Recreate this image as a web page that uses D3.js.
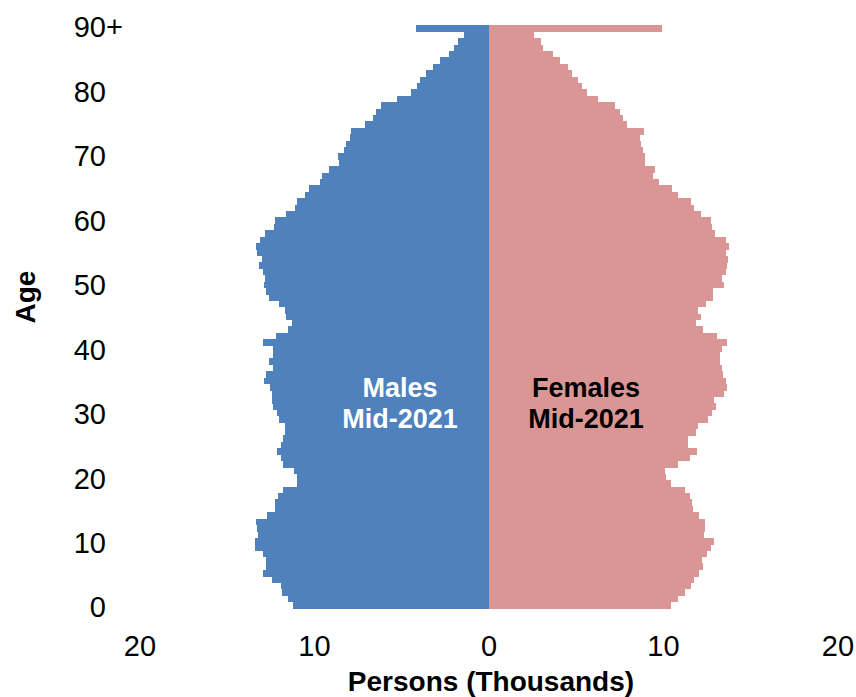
<!DOCTYPE html>
<html lang="en">
  <head>
    <meta charset="UTF-8">
    <title>Population pyramid mid-2021</title>
    <style>
    * {
      box-sizing: border-box;
      margin: 0;
      padding: 0;
    }

    body {
      background: #fff;
      font-family: "Liberation Sans", Arial, sans-serif;
    }

    .tick-label {
      fill: #000;
      font-size: 29px;
    }

    .axis-title {
      fill: #000;
      font-size: 28px;
      font-weight: bold;
    }

    .inner-label {
      font-size: 27px;
      font-weight: bold;
    }
    </style>
  </head>
  <body>
    <svg width="856" height="697"></svg>
    <script src="https://d3js.org/d3.v7.min.js"></script>
    <script>
      // ages 0 .. 90+ (last entry is the 90+ group)
      const ages = d3.range(0, 91).map(a => a === 90 ? "90+" : String(a));

      // thousands of persons, age 0 first
      const males = [
        11.25, 11.52, 11.88, 11.94, 12.44, 12.93, 12.78, 12.78, 12.93, 13.43,
        13.41, 13.25, 13.31, 13.37, 12.74, 12.24, 12.24, 12.07, 11.79, 11.02,
        11.02, 11.17, 11.82, 11.94, 12.13, 11.90, 11.82, 11.67, 11.67, 12.02,
        12.13, 12.36, 12.45, 12.45, 12.55, 12.88, 12.78, 12.36, 12.59, 12.36,
        12.36, 12.93, 12.19, 11.52, 11.31, 11.63, 11.67, 12.02, 12.59, 12.76,
        12.87, 12.85, 12.97, 13.18, 12.99, 13.28, 13.34, 13.10, 12.84, 12.34,
        12.26, 11.65, 11.10, 11.02, 10.56, 10.33, 9.68, 9.55, 9.17, 8.58,
        8.65, 8.33, 8.21, 7.95, 7.91, 7.09, 6.67, 6.46, 6.17, 5.27,
        4.49, 4.14, 3.93, 3.63, 3.19, 2.81, 2.31, 1.99, 1.76, 1.42,
        4.18
      ];

      const females = [
        10.41, 10.85, 11.23, 11.56, 11.77, 12.05, 12.24, 12.19, 12.47, 12.72,
        12.91, 12.32, 12.38, 12.38, 12.05, 11.67, 11.62, 11.52, 11.23, 10.41,
        10.13, 10.09, 10.85, 11.52, 11.94, 11.39, 11.39, 11.86, 12.00, 12.55,
        12.76, 13.01, 12.89, 13.49, 13.62, 13.56, 13.39, 13.37, 13.24, 13.24,
        13.33, 13.64, 13.08, 12.28, 11.86, 12.13, 11.96, 12.45, 12.86, 12.86,
        13.49, 13.33, 13.56, 13.62, 13.68, 13.56, 13.75, 13.56, 12.95, 12.80,
        12.70, 12.13, 11.75, 11.56, 10.85, 10.47, 9.74, 9.40, 9.49, 8.92,
        8.94, 8.84, 8.71, 8.63, 8.88, 7.91, 7.70, 7.51, 7.22, 6.27,
        5.63, 5.33, 5.10, 4.76, 4.53, 4.07, 3.65, 3.11, 2.96, 2.58,
        9.91
      ];

      const xTicks = [-20, -10, 0, 10, 20];
      const yTicks = ["0", "10", "20", "30", "40", "50", "60", "70", "80", "90+"];

      const maleColor = "#4f81bd";
      const femaleColor = "#d99694";

      const svg = d3.select("svg");

      const x = d3.scaleLinear()
        .domain([-20, 20])
        .range([140, 838]);

      const y = d3.scaleBand()
        .domain(ages.slice().reverse())
        .range([25.3, 608.3])
        .padding(0);

      // tick labels sit a touch wider apart than the bar centres
      const yLabel = d3.scaleLinear()
        .domain([0, 90])
        .range([607, 27]);

      const rows = ages.map((a, i) => ({ age: a, m: males[i], f: females[i] }));

      const g = svg.append("g").attr("shape-rendering", "crispEdges");

      g.selectAll(".male")
        .data(rows)
        .enter().append("rect")
        .attr("class", "male")
        .attr("x", d => x(-d.m))
        .attr("y", d => y(d.age))
        .attr("width", d => x(0) - x(-d.m))
        .attr("height", y.bandwidth() + 0.3)
        .attr("fill", maleColor);

      g.selectAll(".female")
        .data(rows)
        .enter().append("rect")
        .attr("class", "female")
        .attr("x", x(0))
        .attr("y", d => y(d.age))
        .attr("width", d => x(d.f) - x(0))
        .attr("height", y.bandwidth() + 0.3)
        .attr("fill", femaleColor);

      // y tick labels (digits right aligned, "+" hangs past the edge)
      const yl = svg.append("g");
      yTicks.forEach(t => {
        const digits = t.replace("+", "");
        const cy = yLabel(+digits);
        yl.append("text")
          .attr("class", "tick-label")
          .attr("x", 106)
          .attr("y", cy)
          .attr("dy", "0.36em")
          .attr("text-anchor", "end")
          .text(digits);
        if (t.endsWith("+")) {
          yl.append("text")
            .attr("class", "tick-label")
            .attr("x", 106)
            .attr("y", cy)
            .attr("dy", "0.36em")
            .text("+");
        }
      });

      // x tick labels, shown as absolute values
      svg.append("g")
        .selectAll("text")
        .data(xTicks)
        .enter().append("text")
        .attr("class", "tick-label")
        .attr("x", d => x(d))
        .attr("y", 646)
        .attr("dy", "0.36em")
        .attr("text-anchor", "middle")
        .text(d => Math.abs(d));

      svg.append("text")
        .attr("class", "axis-title")
        .attr("x", 491)
        .attr("y", 681)
        .attr("dy", "0.36em")
        .attr("text-anchor", "middle")
        .text("Persons (Thousands)");

      svg.append("text")
        .attr("class", "axis-title")
        .attr("transform", "translate(25,297) rotate(-90)")
        .attr("dy", "0.36em")
        .attr("text-anchor", "middle")
        .text("Age");

      const inner = [
        { lines: ["Males", "Mid-2021"], cx: 400, color: "#fff" },
        { lines: ["Females", "Mid-2021"], cx: 586, color: "#000" }
      ];
      inner.forEach(lab => {
        lab.lines.forEach((s, i) => {
          svg.append("text")
            .attr("class", "inner-label")
            .attr("x", lab.cx)
            .attr("y", 387 + i * 31)
            .attr("dy", "0.36em")
            .attr("text-anchor", "middle")
            .attr("fill", lab.color)
            .text(s);
        });
      });
    </script>
  </body>
</html>
